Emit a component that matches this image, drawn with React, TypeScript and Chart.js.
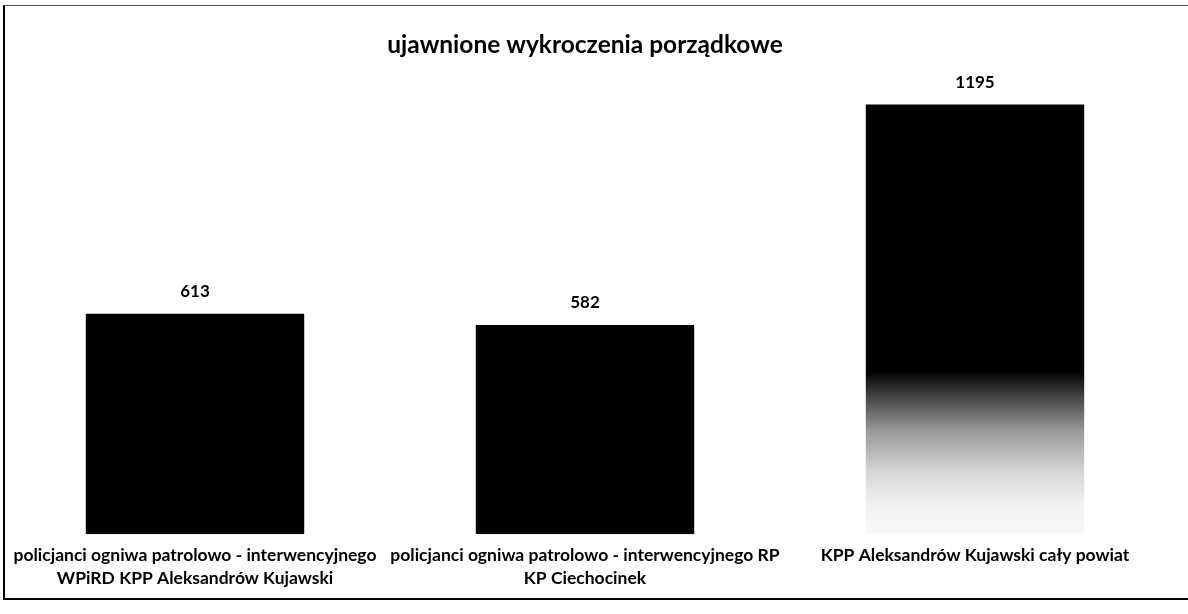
import React, { useEffect, useRef } from "react";
import { Chart, registerables } from "chart.js";

Chart.register(...registerables);

const title = "ujawnione wykroczenia porządkowe";
const categories: string[][] = [
  ["policjanci ogniwa patrolowo - interwencyjnego", "WPiRD KPP Aleksandrów Kujawski"],
  ["policjanci ogniwa patrolowo - interwencyjnego RP", "KP Ciechocinek"],
  ["KPP Aleksandrów Kujawski cały powiat"],
];
const values: number[] = [613, 582, 1195];

const FONT = "Lato, 'Open Sans', sans-serif";

const valueLabels = {
  id: "valueLabels",
  afterDatasetsDraw(chart: any) {
    const ctx = chart.ctx;
    const meta = chart.getDatasetMeta(0);
    ctx.save();
    ctx.font = `bold 17px ${FONT}`;
    ctx.fillStyle = "#000";
    ctx.textAlign = "center";
    ctx.textBaseline = "middle";
    meta.data.forEach((el: any, i: number) => {
      ctx.fillText(String(values[i]), el.x, el.y - 22);
    });
    ctx.restore();
  },
};

export default function App() {
  const ref = useRef<HTMLCanvasElement>(null);
  useEffect(() => {
    if (!ref.current) return;
    const chart = new Chart(ref.current, {
      type: "bar",
      data: {
        labels: categories,
        datasets: [
          {
            data: values,
            barPercentage: 0.56,
            categoryPercentage: 1,
            borderWidth: 0,
            backgroundColor: (c: any) => {
              const ch = c.chart;
              if (c.dataIndex !== 2 || !ch.chartArea || !ch.scales.y) return "#000";
              const y = ch.scales.y;
              const top = y.getPixelForValue(values[2]);
              const bottom = y.getPixelForValue(0);
              const g = ch.ctx.createLinearGradient(0, top, 0, bottom);
              g.addColorStop(0, "#000");
              g.addColorStop(0.62, "#000");
              g.addColorStop(0.68, "#444");
              g.addColorStop(0.76, "#999");
              g.addColorStop(0.86, "#d8d8d8");
              g.addColorStop(0.93, "#f0f0f0");
              g.addColorStop(1, "#fafafa");
              return g;
            },
          },
        ],
      },
      options: {
        animation: false,
        responsive: true,
        maintainAspectRatio: false,
        layout: { padding: { left: 0, right: 18, top: 0, bottom: 14 } },
        plugins: {
          legend: { display: false },
          tooltip: { enabled: false },
          title: {
            display: true,
            text: title,
            color: "#000",
            font: { family: FONT, size: 24.5, weight: "bold", lineHeight: 1.2 },
            padding: { top: 30, bottom: 21 },
          },
        },
        scales: {
          x: {
            grid: { display: false, drawTicks: false },
            border: { display: false },
            ticks: {
              color: "#000",
              font: { family: FONT, size: 17.5, weight: "bold", lineHeight: 1.31 },
              padding: 10,
              maxRotation: 0,
              autoSkip: false,
            },
          },
          y: {
            display: false,
            min: 0,
            max: 1262,
          },
        },
      },
      plugins: [valueLabels],
    });
    return () => chart.destroy();
  }, []);

  return (
    <div style={{ position: "absolute", left: 0, top: 0, width: 1188, height: 614, background: "#fff", overflow: "hidden" }}>
      <div
        style={{
          position: "absolute",
          left: 3,
          top: 5,
          width: 1190,
          height: 592,
          borderLeft: "2px solid #000",
          borderTop: "1px solid #555",
          borderBottom: "2px solid #000",
        }}
      />
      <div style={{ position: "absolute", left: 0, top: 0, width: 1188, height: 614 }}>
        <canvas ref={ref} />
      </div>
    </div>
  );
}
